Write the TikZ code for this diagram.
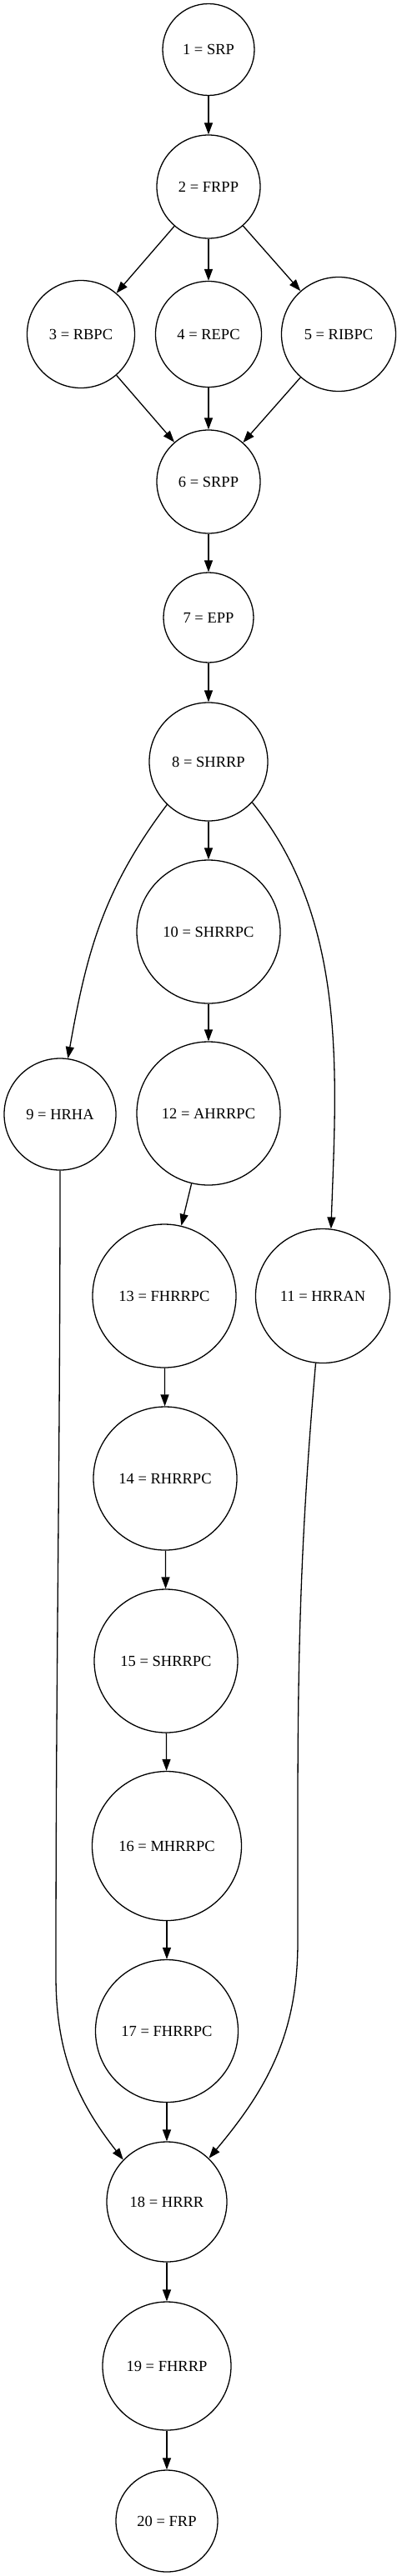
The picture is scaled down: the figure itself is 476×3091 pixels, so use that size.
\documentclass[tikz,border=0pt]{standalone}
\usepackage{fontspec}
\setmainfont{Liberation Serif}
\usetikzlibrary{arrows.meta}

\begin{document}
\begin{tikzpicture}[x=1pt, y=1pt, line width=1.3pt,
		bubble/.style={circle, draw, inner sep=0pt, font=\fontsize{18.5}{22}\selectfont},
		>={Triangle[length=14pt, width=10pt]}]
			\useasboundingbox (0, -3091) rectangle (476, 0);
			\node (1) at (250, -59.5) [bubble, minimum size=110] {1 = SRP};
			\node (2) at (250, -224) [bubble, minimum size=124] {2 = FRPP};
			\node (3) at (97, -401) [bubble, minimum size=129] {3 = RBPC};
			\node (4) at (250, -401) [bubble, minimum size=127] {4 = REPC};
			\node (5) at (406, -401) [bubble, minimum size=137] {5 = RIBPC};
			\node (6) at (250, -578) [bubble, minimum size=124] {6 = SRPP};
			\node (7) at (250, -741) [bubble, minimum size=108] {7 = EPP};
			\node (8) at (250, -914) [bubble, minimum size=142] {8 = SHRRP};
			\node (10) at (250, -1118) [bubble, minimum size=172] {10 = SHRRPC};
			\node (9) at (72, -1337) [bubble, minimum size=134] {9 = HRHA};
			\node (12) at (250, -1336) [bubble, minimum size=172] {12 = AHRRPC};
			\node (13) at (197, -1555) [bubble, minimum size=172] {13 = FHRRPC};
			\node (11) at (387, -1555) [bubble, minimum size=161] {11 = HRRAN};
			\node (14) at (198, -1774) [bubble, minimum size=172] {14 = RHRRPC};
			\node (15) at (199, -1993) [bubble, minimum size=172] {15 = SHRRPC};
			\node (16) at (200, -2215) [bubble, minimum size=179] {16 = MHRRPC};
			\node (17) at (200, -2437) [bubble, minimum size=171] {17 = FHRRPC};
			\node (18) at (200, -2642) [bubble, minimum size=144] {18 = HRRR};
			\node (19) at (200, -2839) [bubble, minimum size=154] {19 = FHRRP};
			\node (20) at (200, -3025) [bubble, minimum size=122] {20 = FRP};
			\coordinate (9b) at (67, -2370);
			\coordinate (11b) at (357, -2330);
			
			\draw[->] (1) to (2);
			\draw[->] (2) to (3);
			\draw[->] (2) to (4);
			\draw[->] (2) to (5);
			\draw[->] (3) to (6);
			\draw[->] (4) to (6);
			\draw[->] (5) to (6);
			\draw[->] (6) to (7);
			\draw[->] (7) to (8);
			\draw[->] (8) to (10);
			\draw[->] (8.226) to[out=233, in=80] (9.82);
			\draw[->] (8.317) to[out=309, in=88, looseness=0.9] (11.83);
			\draw[->] (10) to (12);
			\draw[->] (12) to (13);
			\draw[->] (13) to (14);
			\draw[->] (14) to (15);
			\draw[->] (15) to (16);
			\draw[->] (16) to (17);
			\draw[->] (17) to (18);
			\draw[->] (9.south) to[out=-90, in=90] (9b) to[out=-90, in=128] (18.136);
			\draw[->] (11.264) to[out=-95, in=90] (11b) to[out=-90, in=50] (18.46);
			\draw[->] (18) to (19);
			\draw[->] (19) to (20);
		\end{tikzpicture}
\end{document}
